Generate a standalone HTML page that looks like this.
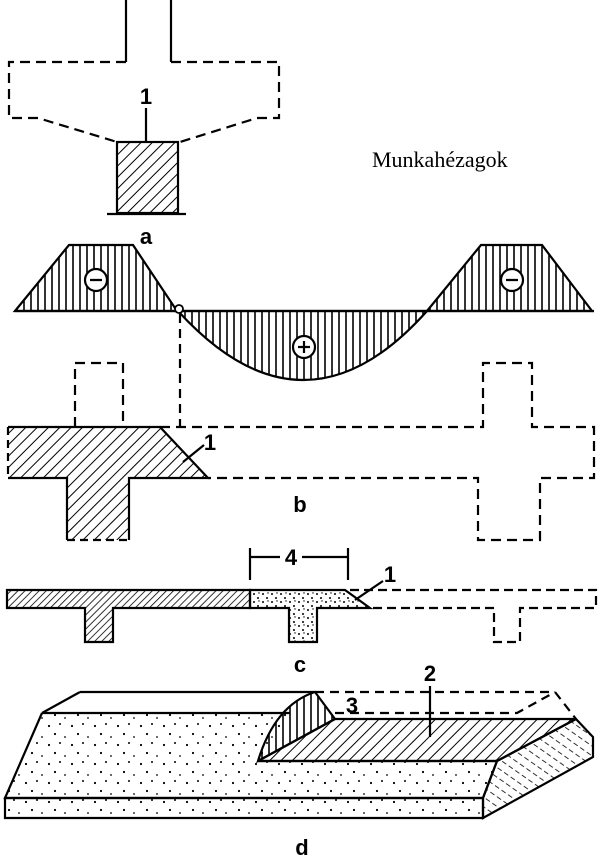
<!DOCTYPE html>
<html><head><meta charset="utf-8"><style>html,body{margin:0;padding:0;background:#fff}svg{display:block}</style></head>
<body>
<svg width="600" height="866" viewBox="0 0 600 866" xmlns="http://www.w3.org/2000/svg" font-family="Liberation Sans, sans-serif">
<defs>
<pattern id="h" width="8" height="8" patternUnits="userSpaceOnUse" patternTransform="rotate(45)"><line x1="0" y1="0" x2="0" y2="8" stroke="#000" stroke-width="2"/></pattern>
<pattern id="hs" width="5" height="5" patternUnits="userSpaceOnUse" patternTransform="rotate(45)"><line x1="0" y1="0" x2="0" y2="5" stroke="#000" stroke-width="1.6"/></pattern>
<pattern id="v" width="7" height="7" patternUnits="userSpaceOnUse"><line x1="3" y1="0" x2="3" y2="7" stroke="#000" stroke-width="1.6"/></pattern>
<pattern id="d" width="23" height="19" patternUnits="userSpaceOnUse"><circle cx="3" cy="4" r="1.1" fill="#000"/><circle cx="14" cy="2" r="1" fill="#000"/><circle cx="9" cy="12" r="1.1" fill="#000"/><circle cx="19" cy="15" r=".9" fill="#000"/></pattern>
<pattern id="dd" width="9" height="8" patternUnits="userSpaceOnUse"><circle cx="2" cy="2" r="1" fill="#000"/><circle cx="6" cy="6" r="1" fill="#000"/><circle cx="7" cy="1" r=".7" fill="#000"/></pattern>
<pattern id="dh" width="8" height="8" patternUnits="userSpaceOnUse" patternTransform="rotate(-55)"><line x1="0" y1="0" x2="0" y2="5" stroke="#000" stroke-width="1.6"/></pattern>
</defs>
<g fill="none" stroke="#000" stroke-width="2.2">
<!-- a -->
<path d="M126 0V62M171 0V62"/>
<path d="M126 62H9V118H38L117 142M171 62H279V118H257L180 142" stroke-dasharray="10 6"/>
<rect x="117" y="142" width="61" height="71" fill="url(#h)"/>
<path d="M107 214H186M146 108V142"/>
<!-- b moment -->
<path d="M15 311H594"/>
<path d="M15 311L69 245H133L177 311Z" fill="url(#v)"/>
<path d="M178 311Q304 449 427 311Z" fill="url(#v)"/>
<path d="M427 311L481 245H542L592 311Z" fill="url(#v)"/>
<circle cx="96" cy="280" r="11" fill="#fff"/><circle cx="512" cy="280" r="11" fill="#fff"/><circle cx="304" cy="347" r="11" fill="#fff"/>
<path d="M90 280H102M506 280H518M298 347H310M304 341V353"/>
<circle cx="179" cy="309" r="4" fill="#fff" stroke-width="1.8"/>
<path d="M180 314V427" stroke-dasharray="9 6"/>
<!-- b beam -->
<path d="M75 427V363H123V427M160 427H483V363H532V427H594V478H540V540H478V478H208" stroke-dasharray="10 6"/>
<path d="M8 427H160L208 478H129V540H67V478H8Z" fill="url(#h)" stroke="none"/>
<path d="M8 427H160L208 478H129V540M67 540V478H8"/>
<path d="M8 427V478M67 540H129" stroke-dasharray="8 5"/>
<path d="M183 462L204 445"/>
<!-- c -->
<path d="M250 548V580M348 548V580M250 557H280M302 557H348"/>
<path d="M7 590H250V608H113V642H85V608H7Z" fill="url(#hs)"/>
<path d="M250 590H345L370 608H317V642H289V608H250Z" fill="url(#dd)"/>
<path d="M350 590H596V608H520V642H494V608H370" stroke-dasharray="9 5"/>
<path d="M355 600L383 581"/>
<!-- d -->
<path d="M80 692H315"/>
<path d="M315 692H555L576 719M335 713H517L555 692" stroke-dasharray="9 6"/>
<path d="M42 713L80 692"/>
<path d="M42 713L5 798H483L497 761H258L290 713Z" fill="url(#d)" stroke="none"/>
<path d="M5 798H483V818H5Z" fill="url(#d)"/>
<path d="M42 713L5 798H483L497 761H258M42 713H290"/>
<path d="M258 761Q275 705 315 692L335 719Z" fill="url(#v)"/>
<path d="M258 761L335 719H576L497 761Z" fill="url(#h)"/>
<path d="M497 761L576 719L593 737V757L483 818V798Z" fill="url(#dh)"/>
<path d="M430 686V737"/>
</g>
<g font-size="22" font-weight="bold" text-anchor="middle">
<text x="146" y="104">1</text>
<text x="146" y="244">a</text>
<text x="210" y="450">1</text>
<text x="300" y="512">b</text>
<text x="291" y="565">4</text>
<text x="390" y="582">1</text>
<text x="300" y="672">c</text>
<text x="430" y="681">2</text>
<text x="352" y="713">3</text>
<text x="302" y="855">d</text>
</g>
<text x="372" y="167" font-family="Liberation Serif, serif" font-size="22">Munkahézagok</text>
</svg>
</body></html>
